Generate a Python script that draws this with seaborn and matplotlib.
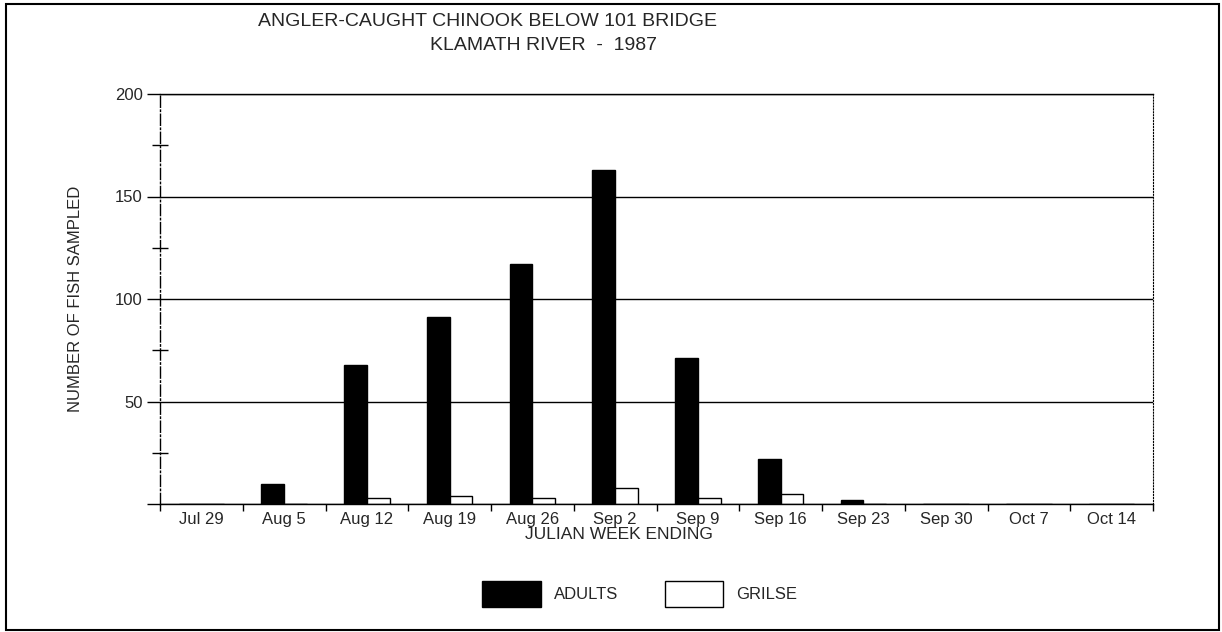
import seaborn as sns
import pandas as pd
import matplotlib.pyplot as plt
from matplotlib.patches import Rectangle
from matplotlib.ticker import MultipleLocator, FixedLocator

weeks = ["Jul 29", "Aug 5", "Aug 12", "Aug 19", "Aug 26", "Sep 2",
         "Sep 9", "Sep 16", "Sep 23", "Sep 30", "Oct 7", "Oct 14"]
adults = [0, 10, 68, 91, 117, 163, 71, 22, 2, 0, 0, 0]
grilse = [0, 0, 3, 4, 3, 8, 3, 5, 0, 0, 0, 0]

df = pd.DataFrame({
    "week": weeks * 2,
    "count": adults + grilse,
    "group": ["ADULTS"] * len(weeks) + ["GRILSE"] * len(weeks),
})

sns.set_style("white")
plt.rcParams["font.family"] = ["Liberation Sans", "DejaVu Sans"]

fig = plt.figure(figsize=(12.22, 6.32), dpi=100)
ax = fig.add_axes([160 / 1222, 1 - 504 / 632, 993 / 1222, 410 / 632])

sns.barplot(data=df, x="week", y="count", hue="group", order=weeks,
            palette={"ADULTS": "black", "GRILSE": "white"}, saturation=1,
            width=0.55, edgecolor="black", linewidth=1.0, ax=ax, legend=False)

ax.set_ylim(0, 200)
ax.set_xlim(-0.5, len(weeks) - 0.5)
ax.set_yticks([0, 50, 100, 150, 200])
ax.set_yticklabels(["", "50", "100", "150", "200"])
ax.yaxis.set_minor_locator(FixedLocator([25, 75, 125, 175]))
ax.xaxis.set_minor_locator(MultipleLocator(1, offset=0.5))
ax.grid(axis="y", color="black", linewidth=1.0)
ax.set_axisbelow(True)

ax.tick_params(axis="y", which="major", direction="out", length=9.5, width=1,
               color="black", labelsize=12, pad=3, left=True)
ax.tick_params(axis="y", which="minor", direction="inout", length=11, width=1,
               color="black", left=True)
ax.tick_params(axis="x", which="major", length=0, labelsize=12, pad=6)
ax.tick_params(axis="x", which="minor", direction="out", length=5, width=1,
               color="black", bottom=True)

for side in ["left", "bottom", "top"]:
    ax.spines[side].set_color("black")
    ax.spines[side].set_linewidth(1.0)
ax.spines["left"].set_linestyle((0, (8, 2, 1, 2)))
ax.spines["right"].set_linestyle(":")
ax.spines["right"].set_color("black")
ax.spines["right"].set_linewidth(0.8)

ax.set_xlabel("JULIAN WEEK ENDING", fontsize=12.5)
ax.xaxis.set_label_coords((619 - 160) / 993, -0.055)
ax.set_ylabel("NUMBER OF FISH SAMPLED", fontsize=12)
ax.yaxis.set_label_coords(-0.078, 0.5)

fig.text(488 / 1222, 1 - 21 / 632, "ANGLER-CAUGHT CHINOOK BELOW 101 BRIDGE",
         ha="center", va="center", fontsize=14)
fig.text(544 / 1222, 1 - 45 / 632, "KLAMATH RIVER  -  1987",
         ha="center", va="center", fontsize=14)

handles = [Rectangle((0, 0), 1, 1, facecolor="black", edgecolor="black"),
           Rectangle((0, 0), 1, 1, facecolor="white", edgecolor="black")]
fig.legend(handles, ["ADULTS", "GRILSE"], loc="center", ncol=2,
           bbox_to_anchor=(640 / 1222, 1 - 594 / 632), frameon=False,
           fontsize=12, handlelength=3.5, handleheight=2.0,
           handletextpad=0.8, columnspacing=2.8)

fig.patches.append(Rectangle((6 / 1222, 1 - 630 / 632), 1213 / 1222, 626 / 632,
                             transform=fig.transFigure, fill=False,
                             edgecolor="black", linewidth=1.5))

plt.savefig("out.png", dpi=100)
